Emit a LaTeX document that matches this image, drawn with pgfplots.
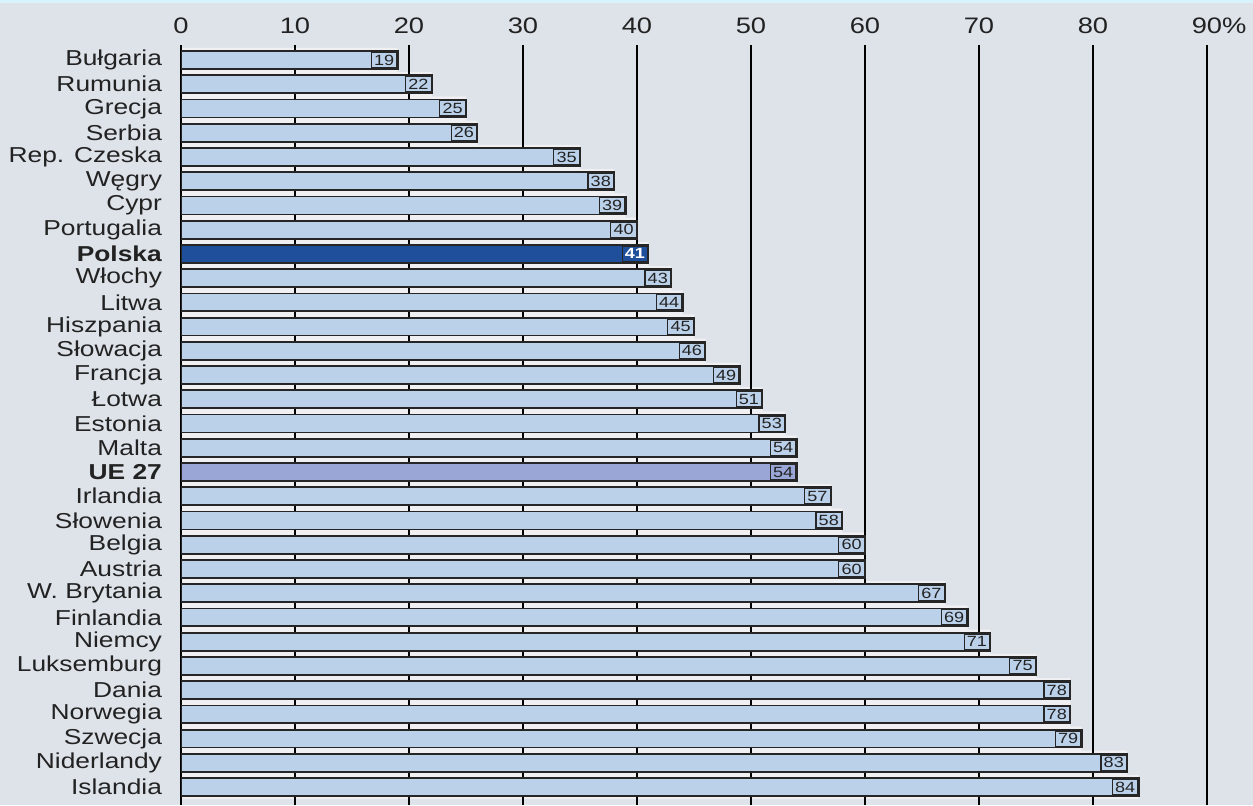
\documentclass[border=0pt]{standalone}
\usepackage{pgfplots}
\pgfplotsset{compat=1.18}
\usepackage{fontspec}
\setmainfont{Liberation Sans}[FakeStretch=1.22]
\definecolor{bgcol}{HTML}{DEE3EA}
\definecolor{barcol}{HTML}{BBD0E9}
\definecolor{polcol}{HTML}{1F4F9A}
\definecolor{uecol}{HTML}{9AA6D6}
\definecolor{gapcol}{HTML}{F0EFF2}
\definecolor{edge}{HTML}{262626}
\definecolor{txt}{HTML}{222222}
\pagecolor{bgcol}
\begin{document}
\begin{tikzpicture}
\begin{axis}[
  set layers,
  at={(90.5pt,0pt)}, anchor=south west,
  scale only axis, width=535.8pt, height=380pt,
  xmin=0, xmax=94, ymin=-0.62, ymax=30.74, y dir=reverse,
  axis line style={draw=none},
  xtick={0,10,...,90},
  xticklabels={0,10,20,30,40,50,60,70,80,90\rlap{\%}},
  xticklabel pos=upper,
  ytick={0,...,30},
  yticklabels={Bułgaria,Rumunia,Grecja,Serbia,Rep. Czeska,Węgry,Cypr,Portugalia,\textbf{Polska},Włochy,Litwa,Hiszpania,Słowacja,Francja,Łotwa,Estonia,Malta,\textbf{UE 27},Irlandia,Słowenia,Belgia,Austria,W. Brytania,Finlandia,Niemcy,Luksemburg,Dania,Norwegia,Szwecja,Niderlandy,Islandia},
  major tick length=0pt,
  xmajorgrids, grid style={black, line width=1pt},
  tick label style={font=\fontsize{10.8}{11}\selectfont, text=txt},
  xticklabel style={yshift=2pt, font=\fontsize{11.2}{12}\selectfont},
  yticklabel style={xshift=-6pt},
  /pgf/number format/assume math mode=true,
  nodes near coords style={anchor=east, draw=edge, line width=0.6pt, inner xsep=1.4pt, inner ysep=0pt, minimum height=7.6pt, font=\fontsize{7.4}{7.4}\selectfont, text=txt},
]
% light strips between the bars
\addplot[xbar, bar width=1, bar shift=0pt, fill=gapcol, draw=none, on layer=axis background] coordinates {
(19,0) (22,1) (25,2) (26,3) (35,4) (38,5) (39,6) (40,7) (41,8) (43,9)
(44,10) (45,11) (46,12) (49,13) (51,14) (53,15) (54,16) (54,17) (57,18) (58,19)
(60,20) (60,21) (67,22) (69,23) (71,24) (75,25) (78,26) (78,27) (79,28) (83,29) (84,30)
};
% countries
\addplot[xbar, bar width=0.74, bar shift=0pt, fill=barcol, draw=edge, line width=0.9pt, nodes near coords] coordinates {
(19,0) (22,1) (25,2) (26,3) (35,4) (38,5) (39,6) (40,7) (43,9)
(44,10) (45,11) (46,12) (49,13) (51,14) (53,15) (54,16) (57,18) (58,19)
(60,20) (60,21) (67,22) (69,23) (71,24) (75,25) (78,26) (78,27) (79,28) (83,29) (84,30)
};
% Polska
\addplot[xbar, bar width=0.74, bar shift=0pt, fill=polcol, draw=edge, line width=0.9pt, nodes near coords, nodes near coords style={text=white, font=\fontsize{7.4}{7.4}\selectfont\bfseries}] coordinates {(41,8)};
% UE 27
\addplot[xbar, bar width=0.74, bar shift=0pt, fill=uecol, draw=edge, line width=0.9pt, nodes near coords] coordinates {(54,17)};
\end{axis}
\pgfresetboundingbox
\path (0,0) rectangle (626.5pt,402.5pt);
\fill[cyan!15] (0,401pt) rectangle (626.5pt,402.5pt);
\end{tikzpicture}
\end{document}
